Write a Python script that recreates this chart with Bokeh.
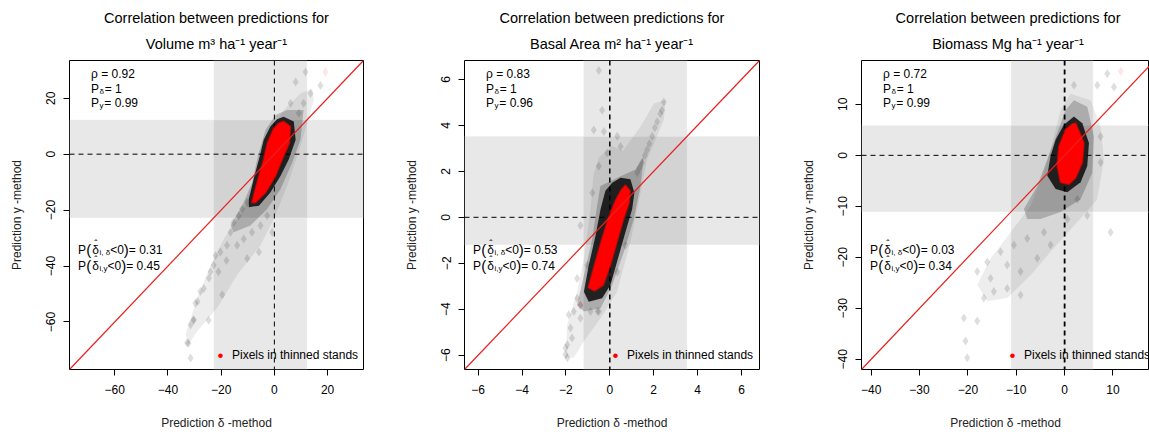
from bokeh.plotting import figure
from bokeh.models import (Label, Span, FixedTicker, BoxAnnotation, Slope, Range1d)
from bokeh.layouts import row, column
from bokeh.embed import file_html
from bokeh.resources import INLINE

FONT = "Liberation Sans"

# ---------------- texts ----------------
title_line1 = "Correlation between predictions for"
subtitles = ["Volume m³ ha⁻¹ year⁻¹", "Basal Area m² ha⁻¹ year⁻¹", "Biomass Mg ha⁻¹ year⁻¹"]
xlabel = "Prediction δ -method"
ylabel = "Prediction y -method"
legend_label = "Pixels in thinned stands"

rho = ["0.92", "0.83", "0.72"]
p_delta = ["1", "1", "1"]
p_y = ["0.99", "0.96", "0.99"]
p_neg_delta = ["0.31", "0.53", "0.03"]
p_neg_y = ["0.45", "0.74", "0.34"]

# ---------------- axes ----------------
vol_range = [-77.0, 33.5]
ba_range = [-6.62, 6.82]
bio_range = [-42.0, 18.6]
bio_visible_xend = 17.55

vol_ticks = [-60, -40, -20, 0, 20]
ba_ticks = [-6, -4, -2, 0, 2, 4, 6]
bio_ticks = [-40, -30, -20, -10, 0, 10]

vol_band = [-22.8, 12.3]
ba_band = [-1.2, 3.52]
bio_band = [-11.1, 5.9]

# ---------------- Volume panel cloud ----------------
vol_outer_x = [14.2, 14.8, 9.8, 4.8, -0.2, -5.2, -14.0, -21.5, -29.0, -32.2, -33.4, -29.0, -24.0, -19.0, -11.5, -6.5, -2.7, 3.5, 9.8]
vol_outer_y = [23.5, 19.3, 2.8, -11.4, -23.2, -32.6, -43.2, -55.0, -63.3, -68.0, -64.5, -51.5, -39.7, -30.3, -19.6, -6.6, 6.3, 15.8, 21.7]
vol_mid_x = [4.8, 11.0, 9.8, 6.7, 2.3, -2.7, -9.0, -15.3, -16.5, -12.1, -8.4, -6.2, -3.3, 0.4]
vol_mid_y = [15.8, 15.8, 5.2, -3.1, -12.5, -19.6, -25.5, -27.9, -25.5, -18.4, -10.2, -0.7, 8.7, 14.0]
vol_inner_x = [3.5, 7.3, 8.0, 5.4, 2.3, -1.5, -5.8, -9.6, -9.6, -7.5, -5.5, -4.0, -1.5, 1.0]
vol_inner_y = [13.4, 11.7, 5.2, -1.9, -7.8, -13.7, -18.4, -19.0, -16.1, -7.8, -0.7, 5.2, 9.9, 12.5]
vol_red_x = [3.5, 6.0, 5.6, 2.9, 0.4, -3.3, -7.1, -8.4, -7.5, -5.8, -4.0, -2.6, -0.2, 1.7]
vol_red_y = [11.7, 9.9, 4.0, -1.9, -7.8, -13.7, -17.3, -17.3, -13.7, -7.8, -1.9, 4.0, 9.3, 11.1]
vol_pts_x = [-32.8, -30.3, -29.7, -26.5, -24.6, -22.8, -20.3, -19.6, -17.8, -16.5, -15.3, -13.4, -12.1, -10.2,
             -5.8, -8.4, -11.5, -5.2, -2.7, -0.8, -22.1, -24.0, -27.8, -31.5, -32.3, -31.5, -30.4, -24.7, -28.9,
             -14.0, -10.2, -18.0, -21.0, 11.7, 13.6, 17.3, 8.0, 6.1, 11.0, 9.2]
vol_pts_y = [-67.4, -59.2, -53.3, -48.0, -44.4, -39.7, -35.0, -50.3, -32.6, -27.9, -24.4, -22.0, -19.6, -17.3,
             -35.0, -27.9, -30.3, -25.5, -22.0, -27.9, -36.2, -42.0, -49.1, -61.0, -67.6, -72.9, -59.4, -59.4, -52.7,
             -32.6, -37.3, -38.0, -42.0, 29.4, 21.7, 24.6, 25.8, 18.2, 18.2, 14.6]
vol_redpts_x = [19.2]
vol_redpts_y = [29.4]

# ---------------- Basal area panel cloud ----------------
ba_outer_x = [-0.5, 0.1, 0.6, 1.4, 2.01, 2.54, 2.46, 1.7, 1.4, 0.94, 0.33, -0.42, -1.18, -1.64, -2.02, -1.94, -1.49, -1.18, -0.88, -0.75]
ba_outer_y = [2.6, 3.1, 2.9, 3.95, 4.95, 5.1, 4.23, 2.51, 1.07, -1.08, -3.24, -4.39, -5.39, -6.11, -6.11, -4.67, -3.24, -1.8, 0.36, 1.8]
ba_mid_x = [-0.43, 0.49, 1.17, 1.55, 1.4, 1.09, 0.64, 0.11, -0.42, -1.18, -1.49, -1.18, -0.8, -0.58]
ba_mid_y = [1.36, 1.79, 2.08, 2.65, 1.36, -0.08, -1.51, -2.95, -3.96, -4.1, -3.81, -2.52, -0.94, 0.5]
ba_inner_x = [0.49, 0.94, 1.12, 1.02, 0.71, 0.37, 0.03, -0.35, -0.96, -1.18, -0.96, -0.65, -0.42, -0.2, 0.11]
ba_inner_y = [1.72, 1.65, 1.07, 0.36, -0.65, -1.8, -2.95, -3.52, -3.67, -3.24, -2.09, -0.8, 0.36, 1.15, 1.5]
ba_red_x = [0.71, 0.92, 0.88, 0.62, 0.32, 0.02, -0.3, -0.7, -0.98, -0.7, -0.4, -0.08, 0.25, 0.52]
ba_red_y = [1.39, 1.15, 0.64, -0.08, -1.08, -2.09, -2.95, -3.2, -3.05, -2.09, -1.08, -0.08, 0.71, 1.19]
ba_pts_x = [-0.5, -0.35, -0.27, -0.73, 2.46, 2.38, 2.16, 1.93, 1.7, 1.47, 1.25, 0.49, 0.34, -0.12, -0.5, -0.8,
            -1.34, -1.03, -1.49, -1.64, -1.79, -1.94, -2.02, -1.72, -1.34, -0.88, -0.5, 0.34, 0.71, -1.49, -1.87,
            -1.93, -2.02, -1.34, -0.56, 2.3, 2.05, 1.8, 1.6, 1.35]
ba_pts_y = [6.39, 4.66, 3.73, 3.8, 5.02, 4.66, 4.16, 3.52, 2.94, 2.37, 1.94, 3.08, 3.52, 2.8, 2.22, 1.07,
            -0.36, -2.09, -3.52, -4.1, -4.82, -5.54, -5.97, -5.25, -4.39, -4.1, -4.1, -2.38, -1.23, -2.66, -4.24,
            -6.11, -5.68, -3.83, -4.09, 4.5, 3.9, 3.2, 2.7, 2.15]
ba_redpts_x = [-1.34]
ba_redpts_y = [-3.81]

# ---------------- Biomass panel cloud ----------------
bio_outer_x = [1.24, 5.37, 7.44, 8.13, 6.75, 1.93, -2.9, -7.04, -11.87, -16.0, -18.07, -15.3, -11.17, -7.04, -4.28, -2.21, -0.83]
bio_outer_y = [12.1, 10.8, 5.66, -0.8, -8.6, -13.8, -18.9, -23.5, -28.0, -28.6, -25.4, -20.2, -15.1, -9.9, -3.4, 3.71, 8.9]
bio_mid_x = [1.93, 4.68, 6.06, 5.72, 3.3, -0.83, -4.97, -7.73, -8.42, -5.66, -3.59, -1.52, 0.2]
bio_mid_y = [10.8, 9.54, 3.71, -3.4, -8.6, -11.1, -12.5, -12.5, -10.5, -6.0, -0.8, 4.36, 8.9]
bio_inner_x = [1.93, 3.65, 5.03, 4.68, 3.3, 0.55, -1.86, -3.59, -2.9, -1.86, -0.14]
bio_inner_y = [7.6, 6.3, 2.42, -2.07, -5.3, -7.25, -6.6, -4.0, -0.13, 3.07, 5.98]
bio_red_x = [2.27, 3.99, 3.65, 2.27, 0.89, -0.83, -1.52, -1.17, 0.2, 1.58]
bio_red_y = [6.3, 2.42, -1.42, -4.38, -5.67, -5.3, -2.07, 1.77, 5.0, 6.17]
bio_pts_x = [1.93, 6.75, 10.2, 8.82, 9.51, 7.44, 7.44, 4.68, 2.62, 0.55, -2.9, -5.66, -9.11, -9.11, -11.87,
             -14.63, -16.7, -18.07, -15.32, -20.83, -18.07, -20.49, -20.14, -13.25, -10.49, -7.73, -4.28, -11.87, -16.0]
bio_pts_y = [13.75, 13.75, 13.4, 16.0, -15.1, 3.71, -1.42, -11.8, -8.6, -12.5, -17.6, -20.2, -22.8, -27.4, -26.1,
             -26.7, -28.0, -22.8, -24.1, -31.9, -32.5, -36.4, -39.7, -18.9, -17.6, -16.3, -15.1, -21.5, -20.9]
bio_redpts_x = [11.6]
bio_redpts_y = [16.5]

# Arial-metric advance widths (per 1000 em)
W = {'P': 667, '(': 333, ')': 333, ' ': 278, '<': 584, '=': 584, '.': 278, ',': 278,
     'i': 222, 'y': 500, 'δ': 556, 'ρ': 575}

TITLE_H = 60
PLOT_H = 432 - TITLE_H


def tw(t, size):
    return sum(W.get(c, 556) for c in t) * size / 1000.0


def lab(p, xa, ya, dx, dy, text, size, color="black", align="left"):
    p.add_layout(Label(x=xa, y=ya, x_offset=dx, y_offset=dy, text=text,
                       text_font=FONT, text_font_size=f"{size}px", text_baseline="middle",
                       text_align=align, text_color=color))


def rich(p, xa, ya, x0, y0, segs):
    """segs: (text, size, drop, gap_before, hat)"""
    cur = x0
    for s in segs:
        txt, size, drop = s[0], s[1], s[2]
        gap = s[3] if len(s) > 3 else 0
        hat = s[4] if len(s) > 4 else False
        cur += gap
        lab(p, xa, ya, cur, -(y0 + drop), txt, size)
        if hat:
            lab(p, xa, ya, cur + tw(txt, size) / 2 + 0.3, -(y0 - 5.5), "ˆ", 10, align="center")
        cur += tw(txt, size)


def title_fig(i, rng, xend, bl, fw, br):
    t = figure(width=bl + fw + br, height=TITLE_H, x_range=Range1d(rng[0], xend),
               y_range=Range1d(0, TITLE_H), output_backend="svg", toolbar_location=None, title=None,
               x_axis_location=None, y_axis_location=None,
               min_border_left=bl, min_border_right=br, min_border_top=0, min_border_bottom=0)
    t.grid.visible = False
    t.outline_line_color = None
    t.background_fill_color = "white"
    t.border_fill_color = "white"
    xc = (rng[0] + rng[1]) / 2.0
    lab(t, xc, TITLE_H - 17, 0, 0, title_line1, 14.5, align="center")
    lab(t, xc, TITLE_H - 43, 0, 0, subtitles[i], 14.5, align="center")
    return t


def panel(i, rng, xend, ticks, band, outer, mid, inner, red, pts, redpts, bl, fw, br, vline_w):
    x0, x1 = rng[0], xend
    y0, y1 = rng
    p = figure(width=bl + fw + br, height=PLOT_H, x_range=Range1d(x0, x1), y_range=Range1d(y0, y1),
               output_backend="svg", toolbar_location=None, title=None,
               min_border_left=bl, min_border_right=br, min_border_top=0, min_border_bottom=60)
    p.grid.visible = False
    p.background_fill_color = "white"
    p.border_fill_color = "white"
    p.outline_line_color = "black"
    p.outline_line_width = 1

    for ax in (p.xaxis, p.yaxis):
        ax.axis_line_color = None
        ax.major_tick_out = 6
        ax.major_tick_in = 0
        ax.major_tick_line_color = "black"
        ax.minor_tick_line_color = None
        ax.major_label_text_font = FONT
        ax.major_label_text_font_size = "12px"
        ax.major_label_text_color = "black"
        ax.axis_label_text_font = FONT
        ax.axis_label_text_font_size = "12px"
        ax.axis_label_text_font_style = "normal"
        ax.axis_label_text_color = "#222222"
    p.xaxis.ticker = FixedTicker(ticks=ticks)
    p.yaxis.ticker = FixedTicker(ticks=ticks)
    p.yaxis.major_label_orientation = "vertical"
    p.xaxis.major_label_standoff = 9
    p.yaxis.major_label_standoff = 8
    p.xaxis.axis_label = xlabel
    p.yaxis.axis_label = ylabel
    p.xaxis.axis_label_standoff = 19
    p.yaxis.axis_label_standoff = 20

    # shaded bands
    p.add_layout(BoxAnnotation(left=band[0], right=band[1], fill_color="black", fill_alpha=0.09,
                               line_color="white", line_width=1, level="underlay"))
    p.add_layout(BoxAnnotation(bottom=band[0], top=band[1], fill_color="black", fill_alpha=0.09,
                               line_color="white", line_width=1, level="underlay"))
    p.add_layout(Span(location=0, dimension="height", line_color="black", line_width=vline_w,
                      line_dash="5 4", level="underlay"))
    p.add_layout(Span(location=0, dimension="width", line_color="black", line_width=1,
                      line_dash="5 4", level="underlay"))

    # point cloud
    p.patch(outer[0], outer[1], fill_color="black", fill_alpha=0.07, line_color=None)
    p.scatter(pts[0], pts[1], marker="diamond", size=9, fill_color="black", fill_alpha=0.13, line_color=None)
    p.scatter(redpts[0], redpts[1], marker="diamond", size=9, fill_color="red", fill_alpha=0.1, line_color=None)
    p.patch(mid[0], mid[1], fill_color="black", fill_alpha=0.2, line_color=None)
    p.patch(inner[0], inner[1], fill_color="black", fill_alpha=0.8, line_color=None)
    p.patch(red[0], red[1], fill_color="#ff0000", fill_alpha=1.0, line_color="#ff0000",
            line_alpha=0.5, line_width=2, line_join="round")

    p.add_layout(Slope(gradient=1, y_intercept=0, line_color="#e8201c", line_width=1.2))

    # legend (bullet + label, placed from the frame's lower-left corner)
    lab(p, x0, y0, 151, 14.3, "•", 17, color="#ff0000", align="center")
    lab(p, x0, y0, 162.5, 14.3, legend_label, 12)

    # statistics text (placed from the frame's upper-left corner)
    xa, ya = x0, y1
    rich(p, xa, ya, 21.5, 13.5, [("ρ = " + rho[i], 12, 0)])
    rich(p, xa, ya, 21.5, 28, [("P", 12, 0), ("δ", 8, 3, 0.5), (" = " + p_delta[i], 12, 0, 0.8)])
    rich(p, xa, ya, 21.5, 42, [("P", 12, 0), ("y", 8, 3, 0.5), (" = " + p_y[i], 12, 0, 0.8)])
    rich(p, xa, ya, 8.5, 189, [("P", 12, 0), ("(", 15, 0, 0.3), ("δ", 12, 0, 1, True),
                               ("i, δ", 8, 2.5, 0.5), ("<0", 12, 0), (")", 15, 0),
                               (" = " + p_neg_delta[i], 12, 0)])
    rich(p, xa, ya, 8.5, 205, [("P", 12, 0), ("(", 15, 0, 0.3), ("δ", 12, 0, 1, True),
                               ("i,y", 8, 2.5, 0.5), ("<0", 12, 0), (")", 15, 0),
                               (" = " + p_neg_y[i], 12, 0)])
    return p


cfg = [
    (0, vol_range, vol_range[1], vol_ticks, vol_band,
     (vol_outer_x, vol_outer_y), (vol_mid_x, vol_mid_y), (vol_inner_x, vol_inner_y),
     (vol_red_x, vol_red_y), (vol_pts_x, vol_pts_y), (vol_redpts_x, vol_redpts_y), 69, 294, 17, 1),
    (1, ba_range, ba_range[1], ba_ticks, ba_band,
     (ba_outer_x, ba_outer_y), (ba_mid_x, ba_mid_y), (ba_inner_x, ba_inner_y),
     (ba_red_x, ba_red_y), (ba_pts_x, ba_pts_y), (ba_redpts_x, ba_redpts_y), 84, 295, 11, 1.5),
    (2, bio_range, bio_visible_xend, bio_ticks, bio_band,
     (bio_outer_x, bio_outer_y), (bio_mid_x, bio_mid_y), (bio_inner_x, bio_inner_y),
     (bio_red_x, bio_red_y), (bio_pts_x, bio_pts_y), (bio_redpts_x, bio_redpts_y), 91, 288, 0, 1.8),
]

cols = []
for c in cfg:
    i, rng, xend = c[0], c[1], c[2]
    bl, fw, br = c[11], c[12], c[13]
    cols.append(column(title_fig(i, rng, xend, bl, fw, br), panel(*c), spacing=0))

layout = row(*cols, spacing=0)
open("out.html", "w").write(file_html(layout, INLINE))
